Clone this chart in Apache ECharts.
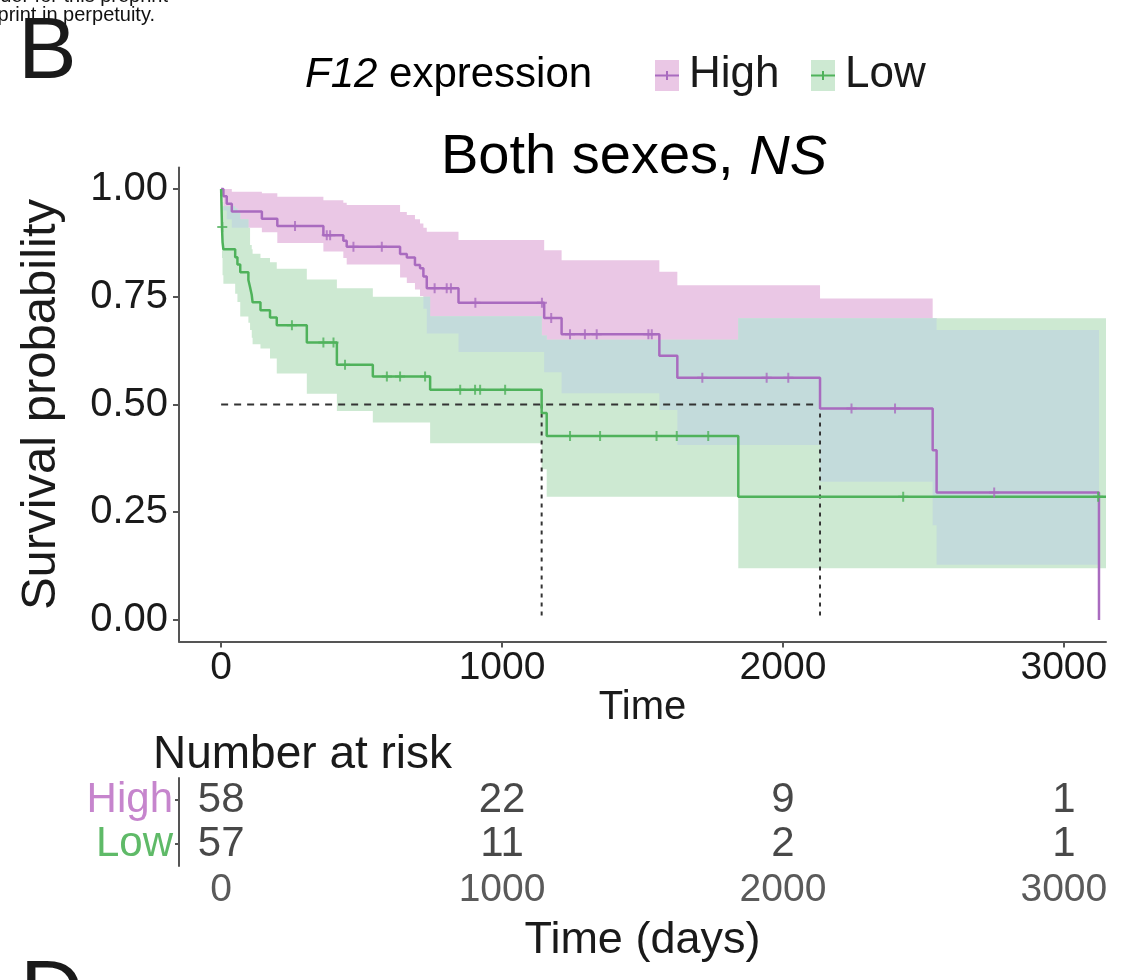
<!DOCTYPE html>
<html>
<head>
<meta charset="utf-8">
<script src="https://cdn.jsdelivr.net/npm/echarts@6/dist/echarts.min.js"></script>
<style>
  html, body { margin: 0; padding: 0; background: #ffffff; }
  #chart { width: 1134px; height: 980px; }
</style>
</head>
<body>
<div id="chart"></div>
<script>
// Kaplan–Meier estimates, F12 expression: High group
const highTime   = [0, 8, 20, 38, 145, 200, 364, 435, 447, 637, 661, 690, 708, 720, 732, 845, 1150, 1212, 1560, 1624, 2132, 2533, 2547, 3125];
const highSurv   = [1, 0.983, 0.966, 0.948, 0.931, 0.914, 0.893, 0.880, 0.866, 0.849, 0.841, 0.824, 0.816, 0.797, 0.770, 0.736, 0.701, 0.663, 0.613, 0.562, 0.491, 0.394, 0.296, 0];
const highLower  = [1, 0.95, 0.93, 0.91, 0.90, 0.875, 0.855, 0.84, 0.825, 0.795, 0.782, 0.767, 0.752, 0.722, 0.665, 0.622, 0.575, 0.526, 0.487, 0.406, 0.321, 0.22, 0.128, 0];
const highUpper  = [1, 1, 1, 0.994, 0.990, 0.982, 0.974, 0.968, 0.963, 0.947, 0.940, 0.930, 0.920, 0.910, 0.901, 0.882, 0.858, 0.835, 0.808, 0.777, 0.746, 0.70, 0.673, 0];
const highCensor = [263, 376, 388, 471, 572, 760, 803, 818, 905, 1142, 1175, 1242, 1295, 1337, 1521, 1533, 1713, 1942, 2019, 2244, 2399, 2752];

// Kaplan–Meier estimates, F12 expression: Low group
const lowTime   = [0, 3, 5, 8, 50, 58, 68, 97, 103, 109, 112, 140, 174, 198, 305, 412, 540, 744, 1141, 1159, 1841, 3150];
const lowSurv   = [1, 0.912, 0.877, 0.860, 0.842, 0.825, 0.807, 0.789, 0.772, 0.754, 0.737, 0.719, 0.702, 0.684, 0.644, 0.592, 0.565, 0.534, 0.480, 0.427, 0.286, 0.286];
const lowLower  = [1, 0.84, 0.80, 0.78, 0.757, 0.738, 0.704, 0.69, 0.673, 0.655, 0.64, 0.63, 0.607, 0.572, 0.525, 0.485, 0.458, 0.410, 0.35, 0.286, 0.120, 0.120];
const lowUpper  = [1, 0.985, 0.97, 0.96, 0.955, 0.945, 0.93, 0.91, 0.87, 0.86, 0.85, 0.84, 0.83, 0.815, 0.79, 0.77, 0.75, 0.705, 0.66, 0.65, 0.70, 0.70];
const lowCensor = [4, 252, 364, 400, 441, 590, 637, 726, 851, 904, 922, 1011, 1242, 1349, 1550, 1622, 1734, 2428, 3122];

// Number at risk table
const riskTimes = [0, 1000, 2000, 3000];
const riskHigh  = [58, 22, 9, 1];
const riskLow   = [57, 11, 2, 1];
const riskGroups = ['High', 'Low'];

// Axis ticks
const timeTicks = [0, 1000, 2000, 3000];
const survTicks = [0, 0.25, 0.5, 0.75, 1];

const FONT = '"Liberation Sans", Arial, Helvetica, sans-serif';
const HIGH_LINE = '#a96bbf', HIGH_TEXT = '#c685cd', HIGH_FILL = '#eac7e5';
const LOW_LINE = '#4fb25b', LOW_TEXT = '#5fba68', LOW_FILL = '#cde9d2';
const BOTH_FILL = '#c3dbdb';
const AXIS_GREY = '#555555';

function stepValue(times, vals, t) {
  let v = vals[0];
  for (let i = 0; i < times.length; i++) {
    if (times[i] <= t) v = vals[i]; else break;
  }
  return v;
}
function medianTime(times, vals) {
  for (let i = 0; i < times.length; i++) if (vals[i] <= 0.5) return times[i];
  return null;
}
// Step ribbon polygon for a confidence band
function bandPolygon(times, lower, upper) {
  const top = [], bottom = [];
  for (let i = 0; i < times.length - 1; i++) {
    top.push([times[i], upper[i]], [times[i + 1], upper[i]]);
    bottom.push([times[i], lower[i]], [times[i + 1], lower[i]]);
  }
  return [top.concat(bottom.reverse())];
}
// Region where both confidence bands overlap
function overlapPolygons() {
  const end = Math.min(highTime[highTime.length - 1], lowTime[lowTime.length - 1]);
  const grid = Array.from(new Set(highTime.concat(lowTime))).filter(t => t <= end).sort((a, b) => a - b);
  const polys = [];
  let top = [], bottom = [];
  for (let i = 0; i < grid.length - 1; i++) {
    const a = grid[i], b = grid[i + 1];
    const lo = Math.max(stepValue(highTime, highLower, a), stepValue(lowTime, lowLower, a));
    const hi = Math.min(stepValue(highTime, highUpper, a), stepValue(lowTime, lowUpper, a));
    if (hi > lo) {
      top.push([a, hi], [b, hi]);
      bottom.push([a, lo], [b, lo]);
    } else if (top.length) {
      polys.push(top.concat(bottom.reverse()));
      top = []; bottom = [];
    }
  }
  if (top.length) polys.push(top.concat(bottom.reverse()));
  return polys;
}
function bandSeries(name, polys, fill) {
  return {
    name: name, type: 'custom', xAxisIndex: 0, yAxisIndex: 0, z: 1, silent: true,
    data: polys.map(p => p[0]),
    renderItem: function (params, api) {
      const pts = polys[params.dataIndex].map(p => api.coord(p));
      return { type: 'polygon', shape: { points: pts }, style: { fill: fill } };
    }
  };
}

const highMedian = medianTime(highTime, highSurv);
const lowMedian = medianTime(lowTime, lowSurv);
const PLUS = 'path://M4,0h2v4h4v2h-4v4h-2v-4h-4v-2h4z';

const chart = echarts.init(document.getElementById('chart'));
chart.setOption({
  backgroundColor: '#ffffff',
  animation: false,
  textStyle: { fontFamily: FONT },
  grid: [
    { left: 179, top: 167.5, width: 927, height: 474 },
    { left: 179, top: 778, width: 927, height: 88 }
  ],
  xAxis: [
    {
      gridIndex: 0, type: 'value', min: -150, max: 3150,
      name: 'Time', nameLocation: 'middle', nameGap: 44,
      nameTextStyle: { fontSize: 40, color: '#1a1a1a', fontFamily: FONT },
      axisLine: { onZero: false, lineStyle: { color: AXIS_GREY, width: 2 } },
      axisTick: { customValues: timeTicks, length: 6, lineStyle: { color: AXIS_GREY, width: 2 } },
      axisLabel: { customValues: timeTicks, margin: 7, fontSize: 39, color: '#1a1a1a', fontFamily: FONT,
        formatter: v => String(v) },
      splitLine: { show: false }
    },
    {
      gridIndex: 1, type: 'value', min: -150, max: 3150,
      name: 'Time (days)', nameLocation: 'middle', nameGap: 52,
      nameTextStyle: { fontSize: 45, color: '#1a1a1a', fontFamily: FONT },
      axisLine: { onZero: false, lineStyle: { color: AXIS_GREY, width: 2 } },
      axisTick: { customValues: timeTicks, length: 5, lineStyle: { color: AXIS_GREY, width: 2 } },
      axisLabel: { customValues: timeTicks, margin: 5, fontSize: 39, color: '#5a5a5a', fontFamily: FONT,
        formatter: v => String(v) },
      splitLine: { show: false }
    }
  ],
  yAxis: [
    {
      gridIndex: 0, type: 'value', min: -0.05, max: 1.05,
      name: 'Survival probability', nameLocation: 'middle', nameGap: 113,
      nameTextStyle: { fontSize: 49, color: '#1a1a1a', fontFamily: FONT },
      axisLine: { show: true, onZero: false, lineStyle: { color: AXIS_GREY, width: 2 } },
      axisTick: { show: true, customValues: survTicks, length: 6, lineStyle: { color: AXIS_GREY, width: 2 } },
      axisLabel: { customValues: survTicks, margin: 11, fontSize: 40, color: '#1a1a1a', fontFamily: FONT,
        formatter: v => v.toFixed(2) },
      splitLine: { show: false }
    },
    {
      gridIndex: 1, type: 'category', data: riskGroups, inverse: true,
      axisLine: { show: true, onZero: false, lineStyle: { color: AXIS_GREY, width: 2 } },
      axisTick: { show: true, alignWithLabel: true, length: 4, lineStyle: { color: AXIS_GREY, width: 2 } },
      axisLabel: {
        interval: 0, margin: 6, fontSize: 42, fontFamily: FONT,
        formatter: v => (v === 'High' ? '{h|High}' : '{l|Low}'),
        rich: {
          h: { color: HIGH_TEXT, fontSize: 42, fontFamily: FONT },
          l: { color: LOW_TEXT, fontSize: 42, fontFamily: FONT }
        }
      },
      splitLine: { show: false }
    }
  ],
  graphic: [
    { type: 'text', x: 168, y: -4, style: { text: 'holder for this preprint', font: '20px ' + FONT, fill: '#111', align: 'right', verticalAlign: 'middle' } },
    { type: 'text', x: 155, y: 15, style: { text: 'the preprint in perpetuity.', font: '20px ' + FONT, fill: '#111', align: 'right', verticalAlign: 'middle' } },
    { type: 'text', x: 18, y: 54, style: { text: 'B', font: '88px ' + FONT, fill: '#1a1a1a', align: 'left', verticalAlign: 'middle' } },
    { type: 'text', x: 20, y: 997, style: { text: 'D', font: '88px ' + FONT, fill: '#1a1a1a', align: 'left', verticalAlign: 'middle' } },
    {
      type: 'text', x: 305, y: 75,
      style: {
        text: '{i|F12}{n| expression}', align: 'left', verticalAlign: 'middle',
        rich: {
          i: { fontSize: 42, fontStyle: 'italic', fontFamily: FONT, color: '#1a1a1a' },
          n: { fontSize: 42, fontFamily: FONT, color: '#1a1a1a' }
        }
      }
    },
    { type: 'rect', shape: { x: 655, y: 60, width: 24, height: 31 }, style: { fill: HIGH_FILL } },
    { type: 'line', shape: { x1: 655, y1: 75.5, x2: 679, y2: 75.5 }, style: { stroke: HIGH_LINE, lineWidth: 2 } },
    { type: 'line', shape: { x1: 667, y1: 71, x2: 667, y2: 80 }, style: { stroke: HIGH_LINE, lineWidth: 2 } },
    { type: 'text', x: 689, y: 75, style: { text: 'High', font: '44px ' + FONT, fill: '#1a1a1a', align: 'left', verticalAlign: 'middle' } },
    { type: 'rect', shape: { x: 811, y: 60, width: 24, height: 31 }, style: { fill: LOW_FILL } },
    { type: 'line', shape: { x1: 811, y1: 75.5, x2: 835, y2: 75.5 }, style: { stroke: LOW_LINE, lineWidth: 2 } },
    { type: 'line', shape: { x1: 823, y1: 71, x2: 823, y2: 80 }, style: { stroke: LOW_LINE, lineWidth: 2 } },
    { type: 'text', x: 845, y: 75, style: { text: 'Low', font: '44px ' + FONT, fill: '#1a1a1a', align: 'left', verticalAlign: 'middle' } },
    {
      type: 'text', x: 634, y: 158,
      style: {
        text: '{n|Both sexes, }{i|NS}', align: 'center', verticalAlign: 'middle',
        rich: {
          n: { fontSize: 56, fontFamily: FONT, color: '#1a1a1a' },
          i: { fontSize: 56, fontStyle: 'italic', fontFamily: FONT, color: '#1a1a1a' }
        }
      }
    },
    { type: 'text', x: 153, y: 755, style: { text: 'Number at risk', font: '46px ' + FONT, fill: '#1a1a1a', align: 'left', verticalAlign: 'middle' } }
  ],
  series: [
    bandSeries('High CI', bandPolygon(highTime, highLower, highUpper), HIGH_FILL),
    bandSeries('Low CI', bandPolygon(lowTime, lowLower, lowUpper), LOW_FILL),
    bandSeries('Both CI', overlapPolygons(), BOTH_FILL),
    {
      name: 'Median', type: 'line', xAxisIndex: 0, yAxisIndex: 0, z: 3, symbol: 'none', silent: true,
      data: [[0, 0.5], [Math.max(highMedian, lowMedian), 0.5]],
      lineStyle: { color: '#333333', width: 2, type: [7, 6] }
    },
    {
      name: 'Median Low', type: 'line', xAxisIndex: 0, yAxisIndex: 0, z: 3, symbol: 'none', silent: true,
      data: [[lowMedian, 0.5], [lowMedian, 0]],
      lineStyle: { color: '#333333', width: 2, type: [4, 5] }
    },
    {
      name: 'Median High', type: 'line', xAxisIndex: 0, yAxisIndex: 0, z: 3, symbol: 'none', silent: true,
      data: [[highMedian, 0.5], [highMedian, 0]],
      lineStyle: { color: '#333333', width: 2, type: [4, 5] }
    },
    {
      name: 'High', type: 'line', step: 'end', xAxisIndex: 0, yAxisIndex: 0, z: 4, symbol: 'none',
      data: highTime.map((t, i) => [t, highSurv[i]]),
      lineStyle: { color: HIGH_LINE, width: 2.5 }
    },
    {
      name: 'Low', type: 'line', step: 'end', xAxisIndex: 0, yAxisIndex: 0, z: 4, symbol: 'none',
      data: lowTime.map((t, i) => [t, lowSurv[i]]),
      lineStyle: { color: LOW_LINE, width: 2.5 }
    },
    {
      name: 'High censored', type: 'scatter', xAxisIndex: 0, yAxisIndex: 0, z: 5, symbol: PLUS, symbolSize: 10,
      data: highCensor.map(t => [t, stepValue(highTime, highSurv, t)]),
      itemStyle: { color: HIGH_LINE }
    },
    {
      name: 'Low censored', type: 'scatter', xAxisIndex: 0, yAxisIndex: 0, z: 5, symbol: PLUS, symbolSize: 10,
      data: lowCensor.map(t => [t, stepValue(lowTime, lowSurv, t)]),
      itemStyle: { color: LOW_LINE }
    },
    {
      name: 'At risk High', type: 'scatter', xAxisIndex: 1, yAxisIndex: 1, symbolSize: 1,
      itemStyle: { color: 'rgba(0,0,0,0)' },
      data: riskTimes.map((t, i) => [t, 'High', riskHigh[i]]),
      label: { show: true, position: 'inside', formatter: p => String(p.value[2]), fontSize: 42, color: '#1a1a1a', fontFamily: FONT }
    },
    {
      name: 'At risk Low', type: 'scatter', xAxisIndex: 1, yAxisIndex: 1, symbolSize: 1,
      itemStyle: { color: 'rgba(0,0,0,0)' },
      data: riskTimes.map((t, i) => [t, 'Low', riskLow[i]]),
      label: { show: true, position: 'inside', formatter: p => String(p.value[2]), fontSize: 42, color: '#1a1a1a', fontFamily: FONT }
    }
  ]
});
</script>
</body>
</html>
